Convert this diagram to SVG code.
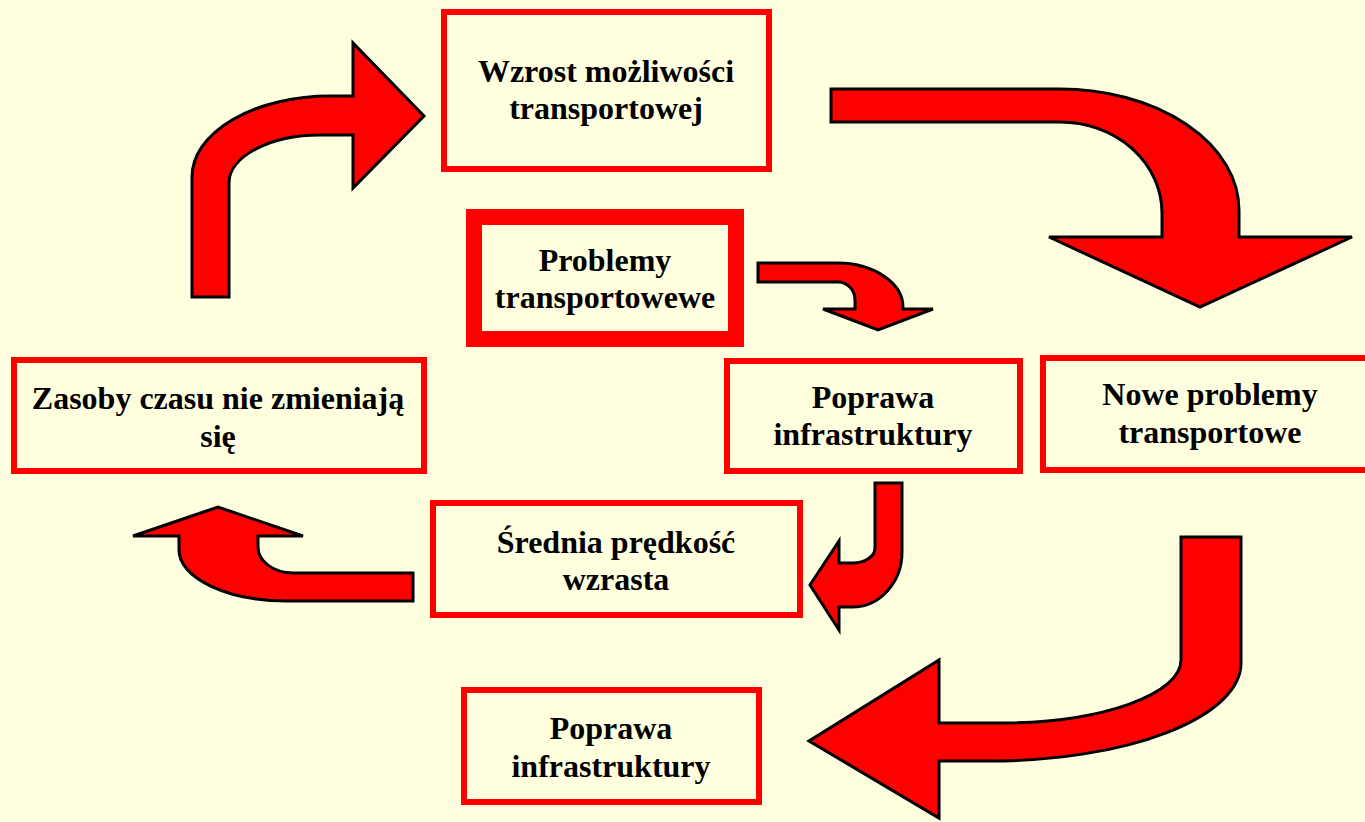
<svg xmlns="http://www.w3.org/2000/svg" width="1365" height="822" viewBox="0 0 1365 822">
<style>
.box{fill:none;stroke:#FF0000;stroke-width:6}
.thick{stroke-width:16}
.arr{fill:#FF0000;stroke:#000000;stroke-width:3;stroke-linejoin:miter}
.t{font-family:"Liberation Serif","Times New Roman",serif;font-weight:bold;font-size:32px;fill:#000000;text-anchor:middle}
</style>
<rect width="1365" height="822" fill="#FFFFE0"/>
<g id="connectors">
<path class="arr" d="M192,297 L192,177 A138,81 0 0 1 330,96 L353,96 L353,43 L424,116 L353,188 L353,135 L320,135 A91,48 0 0 0 229,183 L229,297 Z"/>
<path class="arr" d="M831,89 L1060,89 A179,121 0 0 1 1239,210 L1239,237 L1352,237 L1200,307 L1049,237 L1162,237 L1162,213 A102,91 0 0 0 1060,122 L831,122 Z"/>
<path class="arr" d="M758,263 L837,263 A66,44 0 0 1 903,307 L903,309 L933,309 L878,330 L823,309 L855,309 L855,300 A17,18 0 0 0 838,282 L758,282 Z"/>
<path class="arr" d="M875,483 L902,483 L902,552 A50,55 0 0 1 852,607 L839,607 L839,630 L810,585 L839,541 L839,563 L852,563 A22,15 0 0 0 875,548 Z"/>
<path class="arr" d="M413,573 L413,601 L287,601 A108,51 0 0 1 179,550 L179,536 L133,536 L218,507 L303,536 L258,536 L258,547 A35,26 0 0 0 293,573 Z"/>
<path class="arr" d="M1181,537 L1241,537 L1241,663 A251,98 0 0 1 990,761 L939,761 L939,818 L809,741 L939,660 L939,723 L1000,723 A181,63 0 0 0 1181,660 Z"/>
</g>
<g id="wzrost">
<rect class="box" x="444" y="12" width="325" height="157"/>
<text class="t" x="606" y="82">Wzrost możliwości</text>
<text class="t" x="606" y="119">transportowej</text>
</g>
<g id="problemy">
<rect class="box thick" x="474" y="217" width="262" height="122"/>
<text class="t" x="605" y="271">Problemy</text>
<text class="t" x="605" y="308">transportowewe</text>
</g>
<g id="zasoby">
<rect class="box" x="14" y="360" width="410" height="111"/>
<text class="t" x="218" y="409">Zasoby czasu nie zmieniają</text>
<text class="t" x="218" y="447">się</text>
</g>
<g id="poprawa1">
<rect class="box" x="727" y="361" width="293" height="110"/>
<text class="t" x="873" y="408">Poprawa</text>
<text class="t" x="873" y="445">infrastruktury</text>
</g>
<g id="nowe">
<rect class="box" x="1043" y="358" width="340" height="112"/>
<text class="t" x="1210" y="405">Nowe problemy</text>
<text class="t" x="1210" y="443">transportowe</text>
</g>
<g id="srednia">
<rect class="box" x="433" y="503" width="367" height="112"/>
<text class="t" x="616" y="553">Średnia prędkość</text>
<text class="t" x="616" y="590">wzrasta</text>
</g>
<g id="poprawa2">
<rect class="box" x="464" y="690" width="295" height="112"/>
<text class="t" x="611" y="739">Poprawa</text>
<text class="t" x="611" y="777">infrastruktury</text>
</g>
</svg>
